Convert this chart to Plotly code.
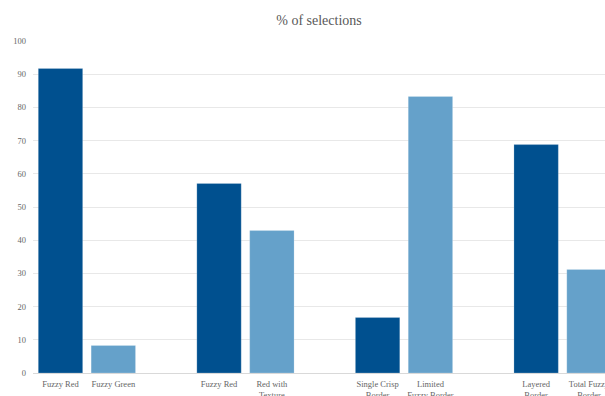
import plotly.graph_objects as go

# Data
groups = [
    ["Fuzzy Red", "Fuzzy Green"],
    ["Fuzzy Red", "Red with<br>Texture"],
    ["Single Crisp<br>Border", "Limited<br>Fuzzy Border"],
    ["Layered<br>Border", "Total Fuzzy<br>Border"],
]
values = [
    [91.7, 8.3],
    [57.1, 42.9],
    [16.7, 83.3],
    [68.8, 31.2],
]
y_ticks = list(range(0, 101, 10))

dark = "#00508F"
light = "#65A1CA"
SERIF = "'Liberation Serif', serif"

xs, ys, labels, colors = [], [], [], []
pos = 0
for g, v in zip(groups, values):
    for j, (lab, val) in enumerate(zip(g, v)):
        xs.append(pos)
        ys.append(val)
        labels.append(lab)
        colors.append(dark if j == 0 else light)
        pos += 1
    pos += 1  # empty slot between groups

fig = go.Figure(go.Bar(
    x=xs, y=ys,
    marker=dict(color=colors, line=dict(color="rgba(255,255,255,0.25)", width=0.8)),
    hoverinfo="skip",
))

fig.update_layout(
    width=605, height=396,
    margin=dict(l=33, r=0, t=41, b=23, autoexpand=False),
    paper_bgcolor="white", plot_bgcolor="white",
    bargap=0.16,
    showlegend=False,
    title=dict(text="% of selections", x=0.5, xref="paper", xanchor="center",
               y=1 - 20 / 396, yref="container", yanchor="middle",
               font=dict(family=SERIF, size=14, color="#595959")),
    font=dict(family=SERIF, size=8.5, color="#595959"),
)
fig.update_xaxes(
    range=[-0.520, 10.303],
    tickvals=xs, ticktext=labels,
    showgrid=False, showline=False, zeroline=False,
    ticks="", automargin=False, tickangle=0,
    ticklabeloverflow="allow", ticklabelstandoff=4,
    tickfont=dict(family=SERIF, size=8.5, color="#666666"),
)
fig.update_yaxes(
    range=[0, 100],
    tickvals=y_ticks,
    showgrid=True, gridcolor="#E8E8E8", gridwidth=1,
    zeroline=True, zerolinecolor="#D9D9D9", zerolinewidth=1,
    showline=False, ticks="", automargin=False, ticklabelstandoff=6,
    tickfont=dict(family=SERIF, size=8.5, color="#666666"),
)

fig.write_html("out.html")
